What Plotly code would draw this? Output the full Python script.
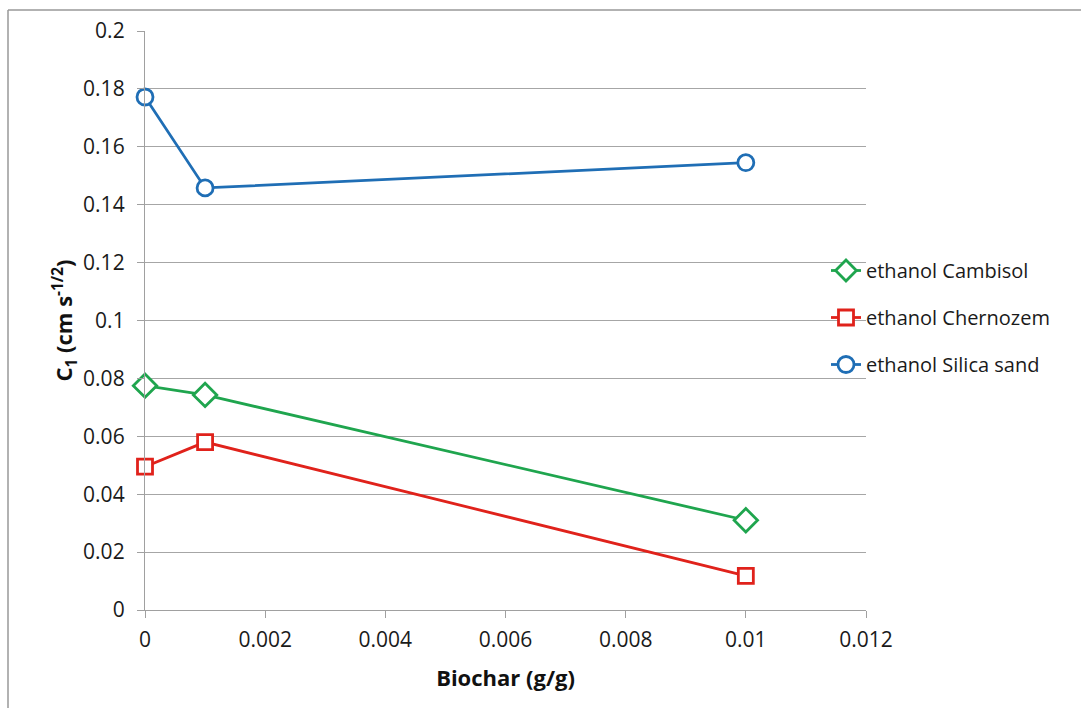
import plotly.graph_objects as go

biochar = [0, 0.001, 0.01]
cambisol = [0.0775, 0.0743, 0.031]
chernozem = [0.0495, 0.058, 0.0118]
silica = [0.1772, 0.1458, 0.1545]

series_names = ["ethanol Cambisol", "ethanol Chernozem", "ethanol Silica sand"]
x_ticks = [0, 0.002, 0.004, 0.006, 0.008, 0.01, 0.012]
x_tick_labels = ["0", "0.002", "0.004", "0.006", "0.008", "0.01", "0.012"]
y_ticks = [0, 0.02, 0.04, 0.06, 0.08, 0.1, 0.12, 0.14, 0.16, 0.18, 0.2]
y_tick_labels = ["0", "0.02", "0.04", "0.06", "0.08", "0.1", "0.12", "0.14", "0.16", "0.18", "0.2"]

FONT = "Open Sans"
W, H = 1081, 708
L, R, T, B = 145, 215, 31, 98

fig = go.Figure()
styles = [
    (cambisol, "#1FA54E", "diamond", 18),
    (chernozem, "#E0221B", "square", 15),
    (silica, "#1F6EB5", "circle", 16),
]
for name, (vals, col, sym, sz) in zip(series_names, styles):
    fig.add_trace(go.Scatter(
        x=biochar, y=vals, name=name, mode="lines+markers",
        line=dict(color=col, width=2.8),
        marker=dict(symbol=sym, size=sz, color="white", line=dict(color=col, width=2.8)),
        legendgroup=name, cliponaxis=False,
    ))

pw = W - L - R
ph = H - T - B
def px(xp):
    return (xp - L) / pw
def py(yp):
    return (H - B - yp) / ph

fig.update_layout(
    width=W, height=H,
    margin=dict(l=L, r=R, t=T, b=B),
    paper_bgcolor="white", plot_bgcolor="white",
    font=dict(family=FONT, color="#1a1a1a", size=21),
    showlegend=True,
    legend=dict(
        x=px(826), y=py(251), xanchor="left", yanchor="top",
        font=dict(family=FONT, size=20, color="#1a1a1a"),
        traceorder="grouped", tracegroupgap=18,
        itemwidth=30, bgcolor="rgba(0,0,0,0)",
    ),
    xaxis=dict(
        range=[0, 0.012], tickvals=x_ticks, ticktext=x_tick_labels,
        showgrid=False, zeroline=False,
        showline=True, linecolor="#A0A0A0", linewidth=1.3,
        ticks="outside", ticklen=7, tickcolor="#A0A0A0",
        tickfont=dict(family=FONT, size=21, color="#1a1a1a"),
        ticklabelstandoff=4,
        title=dict(text="<b>Biochar (g/g)</b>", font=dict(family=FONT, size=22, color="#111111"), standoff=18),
    ),
    yaxis=dict(
        range=[0, 0.2], tickvals=y_ticks, ticktext=y_tick_labels,
        showgrid=True, gridcolor="#A6A6A6", gridwidth=1.2,
        zeroline=False,
        showline=True, linecolor="#A0A0A0", linewidth=1.3,
        ticks="outside", ticklen=7, tickcolor="#A0A0A0",
        tickfont=dict(family=FONT, size=21, color="#1a1a1a"),
        ticklabelstandoff=8,
        title=dict(text="<b>C<sub>1</sub> (cm s<sup>-1/2</sup>)</b>", font=dict(family=FONT, size=22, color="#111111"), standoff=4),
    ),
    shapes=[
        dict(type="line", xref="paper", yref="paper", x0=px(8), x1=px(1081), y0=py(10), y1=py(10),
             line=dict(color="#999999", width=1.5)),
        dict(type="line", xref="paper", yref="paper", x0=px(8), x1=px(8), y0=py(10), y1=py(708),
             line=dict(color="#999999", width=1.5)),
    ],
)

fig.write_html("out.html")
